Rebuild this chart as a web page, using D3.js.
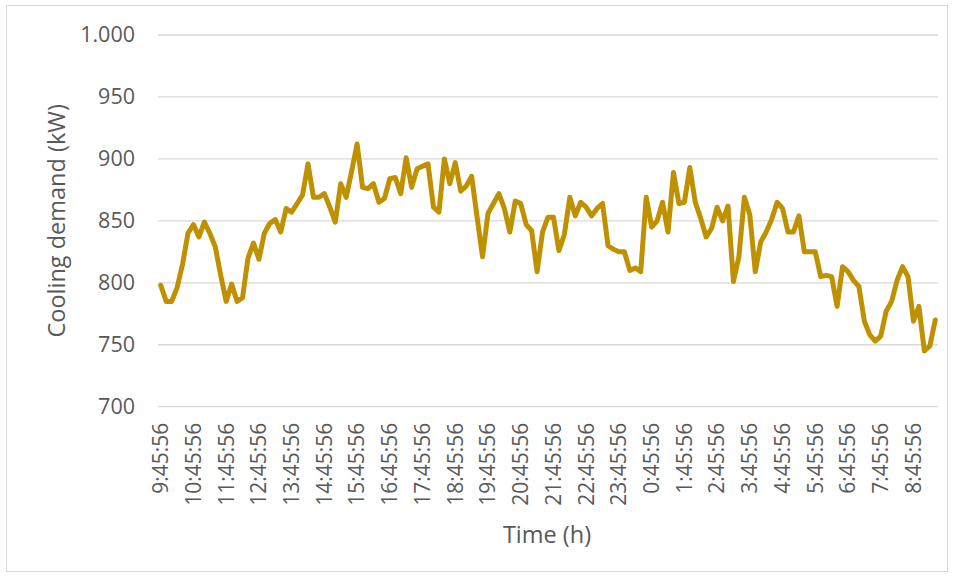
<!DOCTYPE html>
<html>
<head>
<meta charset="utf-8">
<script src="https://cdn.jsdelivr.net/npm/d3@7"></script>
<style>
    body { margin: 0; background: #fff; }
    svg { display: block; }
</style>
</head>
<body>
<svg id="chart"></svg>
<script>
// cooling demand, one reading every 10 minutes starting 9:45:56
const demand = [
    798, 785, 785, 796, 815, 840, 847, 837, 849, 840, 829, 806, 785, 799, 785, 788,
    820, 832, 819, 840, 848, 851, 841, 860, 857, 864, 871, 896, 869, 869, 872, 861,
    849, 880, 869, 890, 912, 877, 876, 880, 865, 868, 884, 885, 872, 901, 877, 892,
    894, 896, 861, 857, 900, 880, 897, 874, 878, 886, 853, 821, 856, 864, 872, 860,
    841, 866, 864, 847, 842, 809, 841, 853, 853, 826, 839, 869, 854, 865, 861, 854,
    860, 864, 830, 827, 825, 825, 810, 812, 809, 869, 845, 850, 865, 841, 889, 864,
    865, 893, 865, 852, 837, 844, 861, 850, 862, 801, 821, 869, 855, 809, 833, 841,
    851, 865, 860, 841, 841, 854, 825, 825, 825, 805, 806, 805, 781, 813, 809, 802,
    797, 769, 758, 753, 757, 777, 785, 802, 813, 805, 769, 781, 745, 749, 770
];

// one label every 6 readings (hourly)
const tickLabels = [
    "9:45:56", "10:45:56", "11:45:56", "12:45:56", "13:45:56", "14:45:56",
    "15:45:56", "16:45:56", "17:45:56", "18:45:56", "19:45:56", "20:45:56",
    "21:45:56", "22:45:56", "23:45:56", "0:45:56", "1:45:56", "2:45:56",
    "3:45:56", "4:45:56", "5:45:56", "6:45:56", "7:45:56", "8:45:56"
];
const labelStep = 6;

const yTicks = [700, 750, 800, 850, 900, 950, 1000];

const width = 955;
const height = 579;
const plot = { left: 158, right: 938, top: 35, bottom: 406.7 };
const textColor = "#595959";
const gridColor = "#d9d9d9";
const lineColor = "#bf9000";
const font = "'Open Sans', sans-serif";

const locale = d3.formatLocale({ decimal: ",", thousands: ".", grouping: [3], currency: ["", ""] });
const fmt = locale.format(",");

const svg = d3.select("#chart")
    .attr("width", width)
    .attr("height", height)
    .style("font-family", font);

svg.append("rect")
    .attr("x", 6.5)
    .attr("y", 5.5)
    .attr("width", 941)
    .attr("height", 566)
    .attr("fill", "#fff")
    .attr("stroke", gridColor);

const x = d3.scaleBand()
    .domain(d3.range(demand.length))
    .range([plot.left, plot.right]);

const y = d3.scaleLinear()
    .domain([700, 1000])
    .range([plot.bottom, plot.top]);

const xc = i => x(i) + x.bandwidth() / 2;

// gridlines
svg.append("g")
    .selectAll("line")
    .data(yTicks)
    .join("line")
    .attr("x1", plot.left)
    .attr("x2", plot.right)
    .attr("y1", d => y(d))
    .attr("y2", d => y(d))
    .attr("stroke", gridColor)
    .attr("stroke-width", 1.3);

// y axis labels
const yAxis = svg.append("g")
    .attr("transform", `translate(${plot.left - 23},0)`)
    .call(d3.axisLeft(y).tickValues(yTicks).tickFormat(fmt).tickSize(0).tickPadding(0));
yAxis.select(".domain").remove();
yAxis.selectAll("text")
    .attr("fill", textColor)
    .attr("font-size", 21.5)
    .attr("font-family", font);

// x axis labels
const tickIdx = tickLabels.map((d, i) => i * labelStep);
const xAxis = svg.append("g")
    .attr("transform", `translate(0,${plot.bottom})`)
    .call(d3.axisBottom(x).tickValues(tickIdx).tickFormat((d, i) => tickLabels[i]).tickSize(0));
xAxis.select(".domain").remove();
xAxis.selectAll("text")
    .attr("fill", textColor)
    .attr("font-size", 21)
    .attr("font-family", font)
    .attr("text-anchor", "end")
    .attr("transform", "rotate(-90)")
    .attr("x", -16)
    .attr("y", 0)
    .attr("dy", "0.35em");

// axis titles
svg.append("text")
    .attr("transform", `translate(65,${(plot.top + plot.bottom) / 2}) rotate(-90)`)
    .attr("text-anchor", "middle")
    .attr("fill", textColor)
    .attr("font-size", 23.5)
    .text("Cooling demand (kW)");

svg.append("text")
    .attr("x", (plot.left + plot.right) / 2 - 1)
    .attr("y", 543)
    .attr("text-anchor", "middle")
    .attr("fill", textColor)
    .attr("font-size", 23.5)
    .text("Time (h)");

// series
const line = d3.line()
    .x((d, i) => xc(i))
    .y(d => y(d));

svg.append("path")
    .datum(demand)
    .attr("fill", "none")
    .attr("stroke", lineColor)
    .attr("stroke-width", 5)
    .attr("stroke-linejoin", "round")
    .attr("stroke-linecap", "round")
    .attr("d", line);
</script>
</body>
</html>
